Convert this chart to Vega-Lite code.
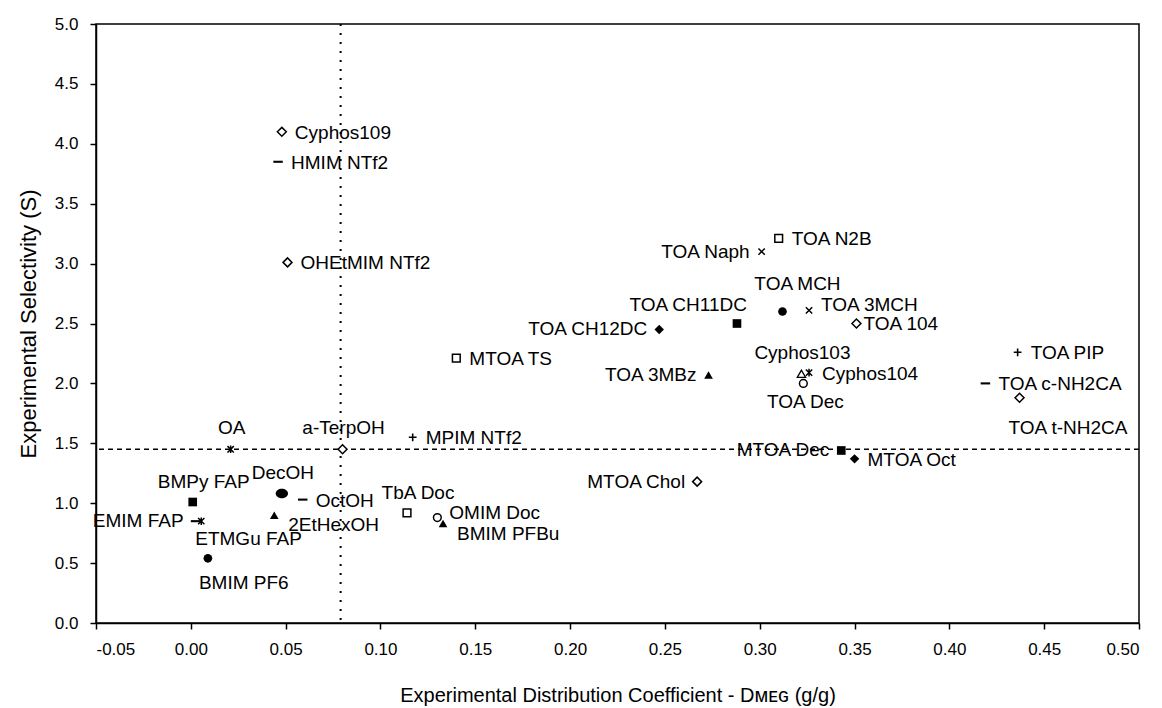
{
  "$schema": "https://vega.github.io/schema/vega-lite/v6.json",
  "autosize": "none",
  "width": 1043,
  "height": 599,
  "padding": {"left": 96, "top": 24, "right": 23, "bottom": 85},
  "background": "white",
  "config": {
    "view": {"stroke": "black", "strokeWidth": 1.5},
    "font": "Liberation Sans",
    "text": {"font": "Liberation Sans", "fontSize": 19, "color": "black", "baseline": "middle"},
    "axis": {
      "grid": false,
      "domainColor": "black",
      "domainWidth": 1.5,
      "tickColor": "black",
      "tickWidth": 1.5,
      "tickSize": 6,
      "labelColor": "black",
      "labelFont": "Liberation Sans",
      "labelFontSize": 17,
      "titleColor": "black",
      "titleFont": "Liberation Sans",
      "titleFontWeight": "normal",
      "titleFontSize": 20
    }
  },
  "data": {
    "values": [
      {"name": "Cyphos109", "D": 0.048, "S": 4.10},
      {"name": "HMIM NTf2", "D": 0.046, "S": 3.85},
      {"name": "OHEtMIM NTf2", "D": 0.051, "S": 3.01},
      {"name": "OA", "D": 0.021, "S": 1.45},
      {"name": "a-TerpOH", "D": 0.080, "S": 1.45},
      {"name": "MPIM NTf2", "D": 0.117, "S": 1.55},
      {"name": "BMPy FAP", "D": 0.001, "S": 1.01},
      {"name": "DecOH", "D": 0.048, "S": 1.08},
      {"name": "OctOH", "D": 0.059, "S": 1.03},
      {"name": "2EtHexOH", "D": 0.044, "S": 0.90},
      {"name": "EMIM FAP", "D": 0.0025, "S": 0.85},
      {"name": "ETMGu FAP", "D": 0.0055, "S": 0.85},
      {"name": "BMIM PF6", "D": 0.009, "S": 0.54},
      {"name": "TbA Doc", "D": 0.114, "S": 0.92},
      {"name": "OMIM Doc", "D": 0.130, "S": 0.88},
      {"name": "BMIM PFBu", "D": 0.133, "S": 0.83},
      {"name": "MTOA TS", "D": 0.140, "S": 2.21},
      {"name": "TOA CH12DC", "D": 0.247, "S": 2.45},
      {"name": "TOA 3MBz", "D": 0.273, "S": 2.07},
      {"name": "TOA CH11DC", "D": 0.288, "S": 2.50},
      {"name": "TOA Naph", "D": 0.301, "S": 3.10},
      {"name": "TOA N2B", "D": 0.310, "S": 3.21},
      {"name": "TOA MCH", "D": 0.312, "S": 2.60},
      {"name": "TOA 3MCH", "D": 0.326, "S": 2.61},
      {"name": "TOA 104", "D": 0.351, "S": 2.50},
      {"name": "Cyphos103", "D": 0.322, "S": 2.08},
      {"name": "Cyphos104", "D": 0.326, "S": 2.09},
      {"name": "TOA Dec", "D": 0.323, "S": 2.00},
      {"name": "TOA PIP", "D": 0.436, "S": 2.26},
      {"name": "TOA c-NH2CA", "D": 0.419, "S": 2.00},
      {"name": "TOA t-NH2CA", "D": 0.437, "S": 1.88},
      {"name": "MTOA Dec", "D": 0.343, "S": 1.44},
      {"name": "MTOA Oct", "D": 0.350, "S": 1.37},
      {"name": "MTOA Chol", "D": 0.267, "S": 1.18}
    ]
  },
  "encoding": {
    "x": {
      "field": "D",
      "type": "quantitative",
      "scale": {"domain": [-0.05, 0.5], "nice": false, "zero": false},
      "axis": {
        "values": [-0.05, 0, 0.05, 0.1, 0.15, 0.2, 0.25, 0.3, 0.35, 0.4, 0.45, 0.5],
        "format": ".2f",
        "labelExpr": "replace(datum.label, '\u2212', '-')",
        "labelPadding": 12,
        "titlePadding": 28,
        "title": "Experimental Distribution Coefficient - D\u1d0d\u1d07\u0262 (g/g)"
      }
    },
    "y": {
      "field": "S",
      "type": "quantitative",
      "scale": {"domain": [0, 5], "nice": false},
      "axis": {
        "values": [0, 0.5, 1, 1.5, 2, 2.5, 3, 3.5, 4, 4.5, 5],
        "format": ".1f",
        "labelPadding": 12,
        "titlePadding": 14,
        "titleFontSize": 22,
        "title": "Experimental Selectivity (S)"
      }
    }
  },
  "layer": [
    {
      "data": {"values": [{"S": 1.45}]},
      "mark": {"type": "rule", "color": "black", "strokeWidth": 1.5, "strokeDash": [5, 4]},
      "encoding": {"y": {"field": "S", "type": "quantitative"}, "x": null}
    },
    {
      "data": {"values": [{"D": 0.079}]},
      "mark": {"type": "rule", "color": "black", "strokeWidth": 2, "strokeDash": [2, 7]},
      "encoding": {"x": {"field": "D", "type": "quantitative"}, "y": null}
    },
    {
      "transform": [{"filter": {"field": "name", "oneOf": ["Cyphos109", "OHEtMIM NTf2", "a-TerpOH", "MTOA Chol", "TOA 104", "TOA t-NH2CA"]}}],
      "mark": {"type": "point", "shape": "diamond", "size": 80, "filled": true, "fill": "white", "stroke": "black", "strokeWidth": 1.5, "opacity": 1}
    },
    {
      "transform": [{"filter": {"field": "name", "oneOf": ["TOA CH12DC", "MTOA Oct"]}}],
      "mark": {"type": "point", "shape": "diamond", "size": 90, "filled": true, "color": "black", "opacity": 1}
    },
    {
      "transform": [{"filter": {"field": "name", "oneOf": ["BMPy FAP", "TOA CH11DC", "MTOA Dec"]}}],
      "mark": {"type": "point", "shape": "square", "size": 75, "filled": true, "color": "black", "opacity": 1}
    },
    {
      "transform": [{"filter": {"field": "name", "oneOf": ["TbA Doc", "MTOA TS", "TOA N2B"]}}],
      "mark": {"type": "point", "shape": "square", "size": 60, "filled": true, "fill": "white", "stroke": "black", "strokeWidth": 1.5, "opacity": 1}
    },
    {
      "transform": [{"filter": {"field": "name", "oneOf": ["TOA MCH", "BMIM PF6"]}}],
      "mark": {"type": "point", "shape": "circle", "size": 75, "filled": true, "color": "black", "opacity": 1}
    },
    {
      "transform": [{"filter": {"field": "name", "oneOf": ["DecOH"]}}],
      "mark": {"type": "point", "shape": "M-1.3,0A1.3,1,0,1,0,1.3,0A1.3,1,0,1,0,-1.3,0Z", "size": 90, "filled": true, "color": "black", "opacity": 1}
    },
    {
      "transform": [{"filter": {"field": "name", "oneOf": ["OMIM Doc", "TOA Dec"]}}],
      "mark": {"type": "point", "shape": "circle", "size": 60, "filled": true, "fill": "white", "stroke": "black", "strokeWidth": 1.5, "opacity": 1}
    },
    {
      "transform": [{"filter": {"field": "name", "oneOf": ["2EtHexOH", "BMIM PFBu", "TOA 3MBz"]}}],
      "mark": {"type": "point", "shape": "triangle-up", "size": 75, "filled": true, "color": "black", "opacity": 1}
    },
    {
      "transform": [{"filter": {"field": "name", "oneOf": ["Cyphos103"]}}],
      "mark": {"type": "point", "shape": "triangle-up", "size": 70, "filled": true, "fill": "white", "stroke": "black", "strokeWidth": 1.3, "opacity": 1}
    },
    {
      "transform": [{"filter": {"field": "name", "oneOf": ["TOA Naph", "TOA 3MCH"]}}],
      "mark": {"type": "point", "shape": "M-1,-1L1,1M-1,1L1,-1", "size": 40, "filled": false, "stroke": "black", "strokeWidth": 1.5, "opacity": 1}
    },
    {
      "transform": [{"filter": {"field": "name", "oneOf": ["Cyphos104", "OA", "ETMGu FAP"]}}],
      "mark": {"type": "point", "shape": "M-1,-1L1,1M-1,1L1,-1M0,-1.2V1.2", "size": 40, "filled": false, "stroke": "black", "strokeWidth": 1.5, "opacity": 1}
    },
    {
      "transform": [{"filter": {"field": "name", "oneOf": ["MPIM NTf2", "TOA PIP"]}}],
      "mark": {"type": "point", "shape": "M-1,0H1M0,-1V1", "size": 60, "filled": false, "stroke": "black", "strokeWidth": 1.6, "opacity": 1}
    },
    {
      "transform": [{"filter": {"field": "name", "oneOf": ["HMIM NTf2", "EMIM FAP", "TOA c-NH2CA", "OctOH"]}}],
      "mark": {"type": "point", "shape": "M-1,-0.22H1V0.22H-1Z", "size": 90, "filled": true, "color": "black", "opacity": 1}
    },
    {
      "transform": [{"filter": {"field": "name", "oneOf": ["Cyphos109", "HMIM NTf2", "OHEtMIM NTf2", "MPIM NTf2", "MTOA TS", "TOA N2B", "TOA PIP", "TOA c-NH2CA", "MTOA Oct", "Cyphos104", "OctOH"]}}],
      "mark": {"type": "text", "align": "left", "dx": 13, "dy": 1},
      "encoding": {"text": {"field": "name"}}
    },
    {
      "transform": [{"filter": {"field": "name", "oneOf": ["TOA 104"]}}],
      "mark": {"type": "text", "align": "left", "dx": 7, "dy": 0},
      "encoding": {"text": {"field": "name"}}
    },
    {
      "transform": [{"filter": {"field": "name", "oneOf": ["2EtHexOH", "BMIM PFBu"]}}],
      "mark": {"type": "text", "align": "left", "dx": 14, "dy": 10},
      "encoding": {"text": {"field": "name"}}
    },
    {
      "transform": [{"filter": {"field": "name", "oneOf": ["TOA 3MCH", "OMIM Doc"]}}],
      "mark": {"type": "text", "align": "left", "dx": 12, "dy": -5},
      "encoding": {"text": {"field": "name"}}
    },
    {
      "transform": [{"filter": {"field": "name", "oneOf": ["TOA CH12DC", "TOA 3MBz", "TOA Naph", "MTOA Dec", "MTOA Chol", "EMIM FAP"]}}],
      "mark": {"type": "text", "align": "right", "dx": -12, "dy": 0},
      "encoding": {"text": {"field": "name"}}
    },
    {
      "transform": [{"filter": {"field": "name", "oneOf": ["OA", "a-TerpOH", "DecOH", "Cyphos103"]}}],
      "mark": {"type": "text", "align": "center", "dx": 1, "dy": -21},
      "encoding": {"text": {"field": "name"}}
    },
    {
      "transform": [{"filter": {"field": "name", "oneOf": ["TbA Doc", "BMPy FAP"]}}],
      "mark": {"type": "text", "align": "center", "dx": 11, "dy": -20},
      "encoding": {"text": {"field": "name"}}
    },
    {
      "transform": [{"filter": {"field": "name", "oneOf": ["TOA MCH"]}}],
      "mark": {"type": "text", "align": "center", "dx": 15, "dy": -28},
      "encoding": {"text": {"field": "name"}}
    },
    {
      "transform": [{"filter": {"field": "name", "oneOf": ["TOA CH11DC"]}}],
      "mark": {"type": "text", "align": "right", "dx": 10, "dy": -19},
      "encoding": {"text": {"field": "name"}}
    },
    {
      "transform": [{"filter": {"field": "name", "oneOf": ["TOA Dec"]}}],
      "mark": {"type": "text", "align": "center", "dx": 2, "dy": 19},
      "encoding": {"text": {"field": "name"}}
    },
    {
      "transform": [{"filter": {"field": "name", "oneOf": ["ETMGu FAP"]}}],
      "mark": {"type": "text", "align": "left", "dx": -6, "dy": 18},
      "encoding": {"text": {"field": "name"}}
    },
    {
      "transform": [{"filter": {"field": "name", "oneOf": ["BMIM PF6"]}}],
      "mark": {"type": "text", "align": "left", "dx": -9, "dy": 25},
      "encoding": {"text": {"field": "name"}}
    },
    {
      "transform": [{"filter": {"field": "name", "oneOf": ["TOA t-NH2CA"]}}],
      "mark": {"type": "text", "align": "left", "dx": -11, "dy": 30},
      "encoding": {"text": {"field": "name"}}
    }
  ]
}
